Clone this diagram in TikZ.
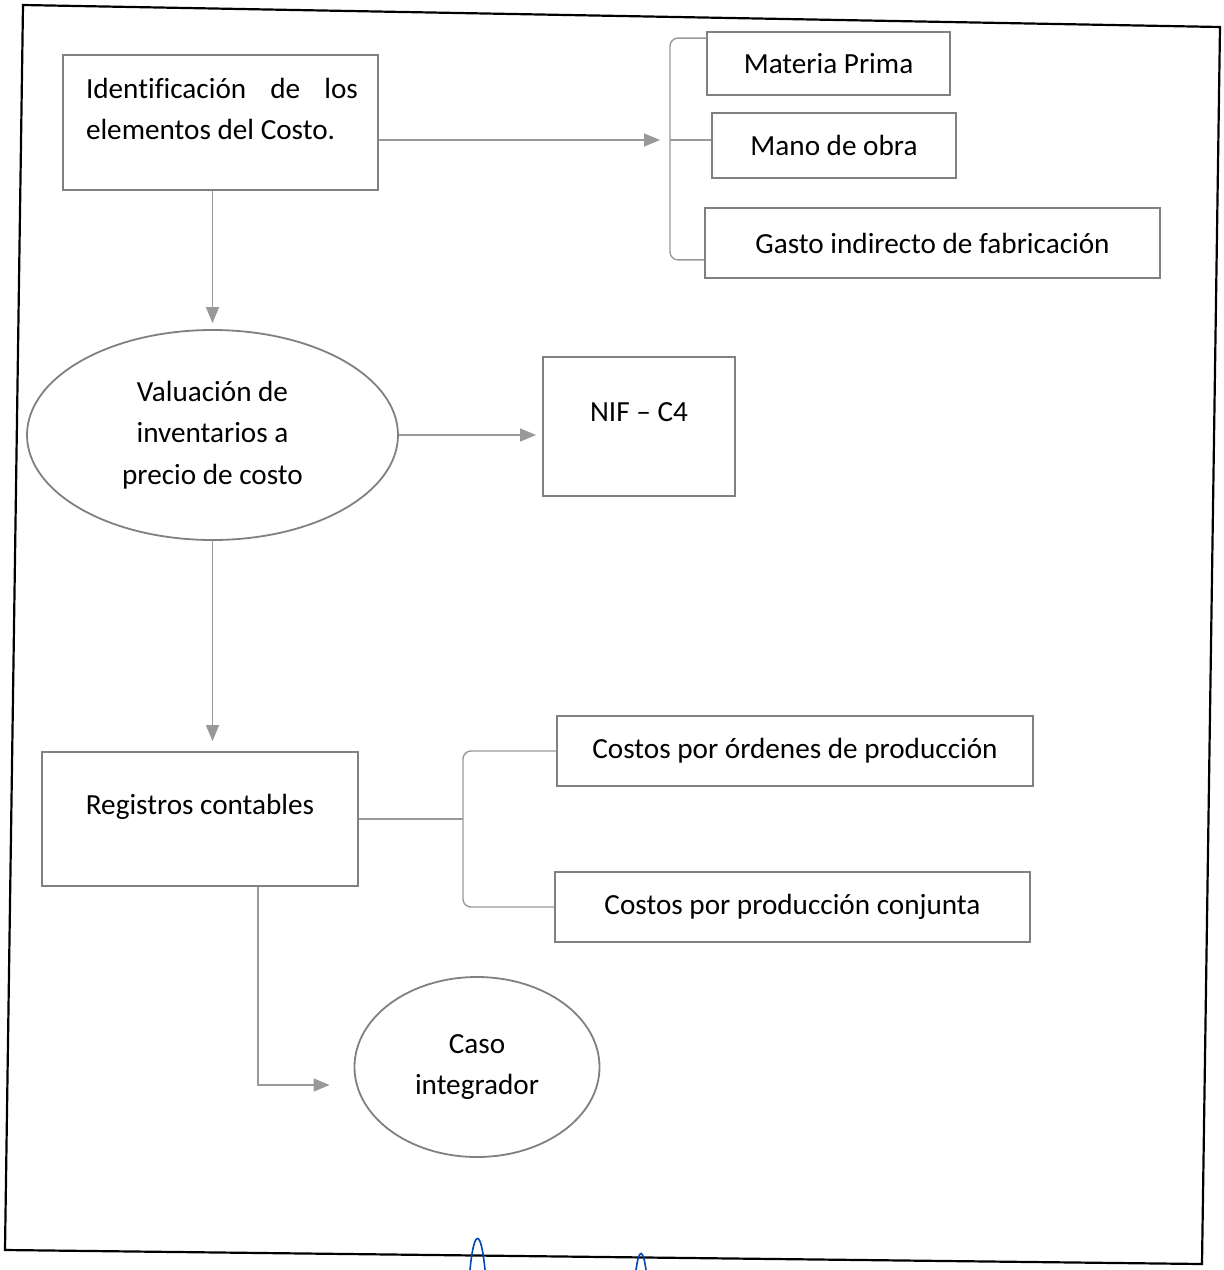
\documentclass[tikz,border=0pt]{standalone}
\usepackage{fontspec}
\setmainfont{Carlito}[Ligatures={TeX,NoCommon}]
\usepackage{tikz}
\usepackage{xcolor}
\usetikzlibrary{shapes}
\usetikzlibrary{arrows.meta}
\hyphenpenalty=10000
\exhyphenpenalty=10000
\tikzset{x=0.5pt,y=-0.5pt,
 every node/.style={font=\fontsize{14.6}{20.8}\selectfont},
 box/.style={draw=black!50,line width=0.9pt,rectangle,inner sep=0pt},
 blob/.style={draw=black!50,line width=0.9pt,ellipse,inner sep=0pt,align=center},
 txt/.style={inner sep=0pt},
 conn/.style={draw=black!40,line width=0.7pt},
 arr/.style={conn,-{Triangle[length=8pt,width=6.5pt]},color=black!40,shorten >=3pt},
 frame/.style={draw=black,line width=1.1pt},
 sig/.style={draw=blue!60!cyan!70!black,line width=0.8pt},
 }

\begin{document}
\begin{tikzpicture}
        \useasboundingbox (0,0) rectangle (1223,1270);
        \draw[frame] (23,5) -- (1220,27) -- (1202,1264) -- (5,1250) -- cycle;

        \node[box,minimum width=157.5pt,minimum height=67.5pt] (ident) at (220.5,122.5) {};
        \node[txt,text width=136pt,align=justify] (identtxt) at (222,109) {Identificación de los elementos del Costo.};

        \node[box,minimum width=121.5pt,minimum height=31.5pt] (mp) at (828.5,63.5) {Materia Prima};
        \node[box,minimum width=122pt,minimum height=32.5pt] (mo) at (834,145.5) {Mano de obra};
        \node[box,minimum width=227.5pt,minimum height=35pt] (gasto) at (932.5,243) {Gasto indirecto de fabricación};

        \node[blob,minimum width=185.5pt,minimum height=105pt] (val) at (212.5,435) {Valuación de\\inventarios a\\precio de costo};

        \node[box,minimum width=96pt,minimum height=69.5pt] (nif) at (639,426.5) {};
        \node[txt] (niftxt) at (639,412) {NIF -- C4};

        \node[box,minimum width=158pt,minimum height=67pt] (reg) at (200,819) {};
        \node[txt] (regtxt) at (200,807) {Registros contables};

        \node[box,minimum width=238pt,minimum height=35pt] (ord) at (795,751) {Costos por órdenes de producción};
        \node[box,minimum width=237.5pt,minimum height=35pt] (conj) at (792.5,907) {Costos por producción conjunta};

        \node[blob,minimum width=122.5pt,minimum height=90pt] (caso) at (477,1067) {Caso\\integrador};

        \coordinate (br1) at (670,140);
        \coordinate (br2) at (463,819);

        \draw[conn,rounded corners=4pt] ([yshift=-3.5pt]mp.north west) -| (br1) |- ([yshift=9.5pt]gasto.south west);
        \draw[conn] (br1) -- (br1 -| mo.west);
        \draw[arr] (ident.east |- br1) -- ([xshift=-2pt]br1);

        \draw[arr] (ident.south -| val.north) -- (val.north);
        \draw[arr] (val.east) -- (val.east -| nif.west);
        \draw[arr,shorten >=5pt] (val.south) -- (val.south |- reg.north);

        \draw[conn,rounded corners=4pt] (ord.west) -| (br2) |- (conj.west);
        \draw[conn] (reg.east) -- (reg.east -| br2);

        \draw[arr,shorten >=12pt] ([xshift=29pt]reg.south) |- ([yshift=-9pt]caso.west);

        \draw[sig] (470,1270) .. controls (474,1228) and (481,1228) .. (485,1270);
        \draw[sig] (636,1270) .. controls (639,1248) and (643,1248) .. (646,1270);
    \end{tikzpicture}
\end{document}
